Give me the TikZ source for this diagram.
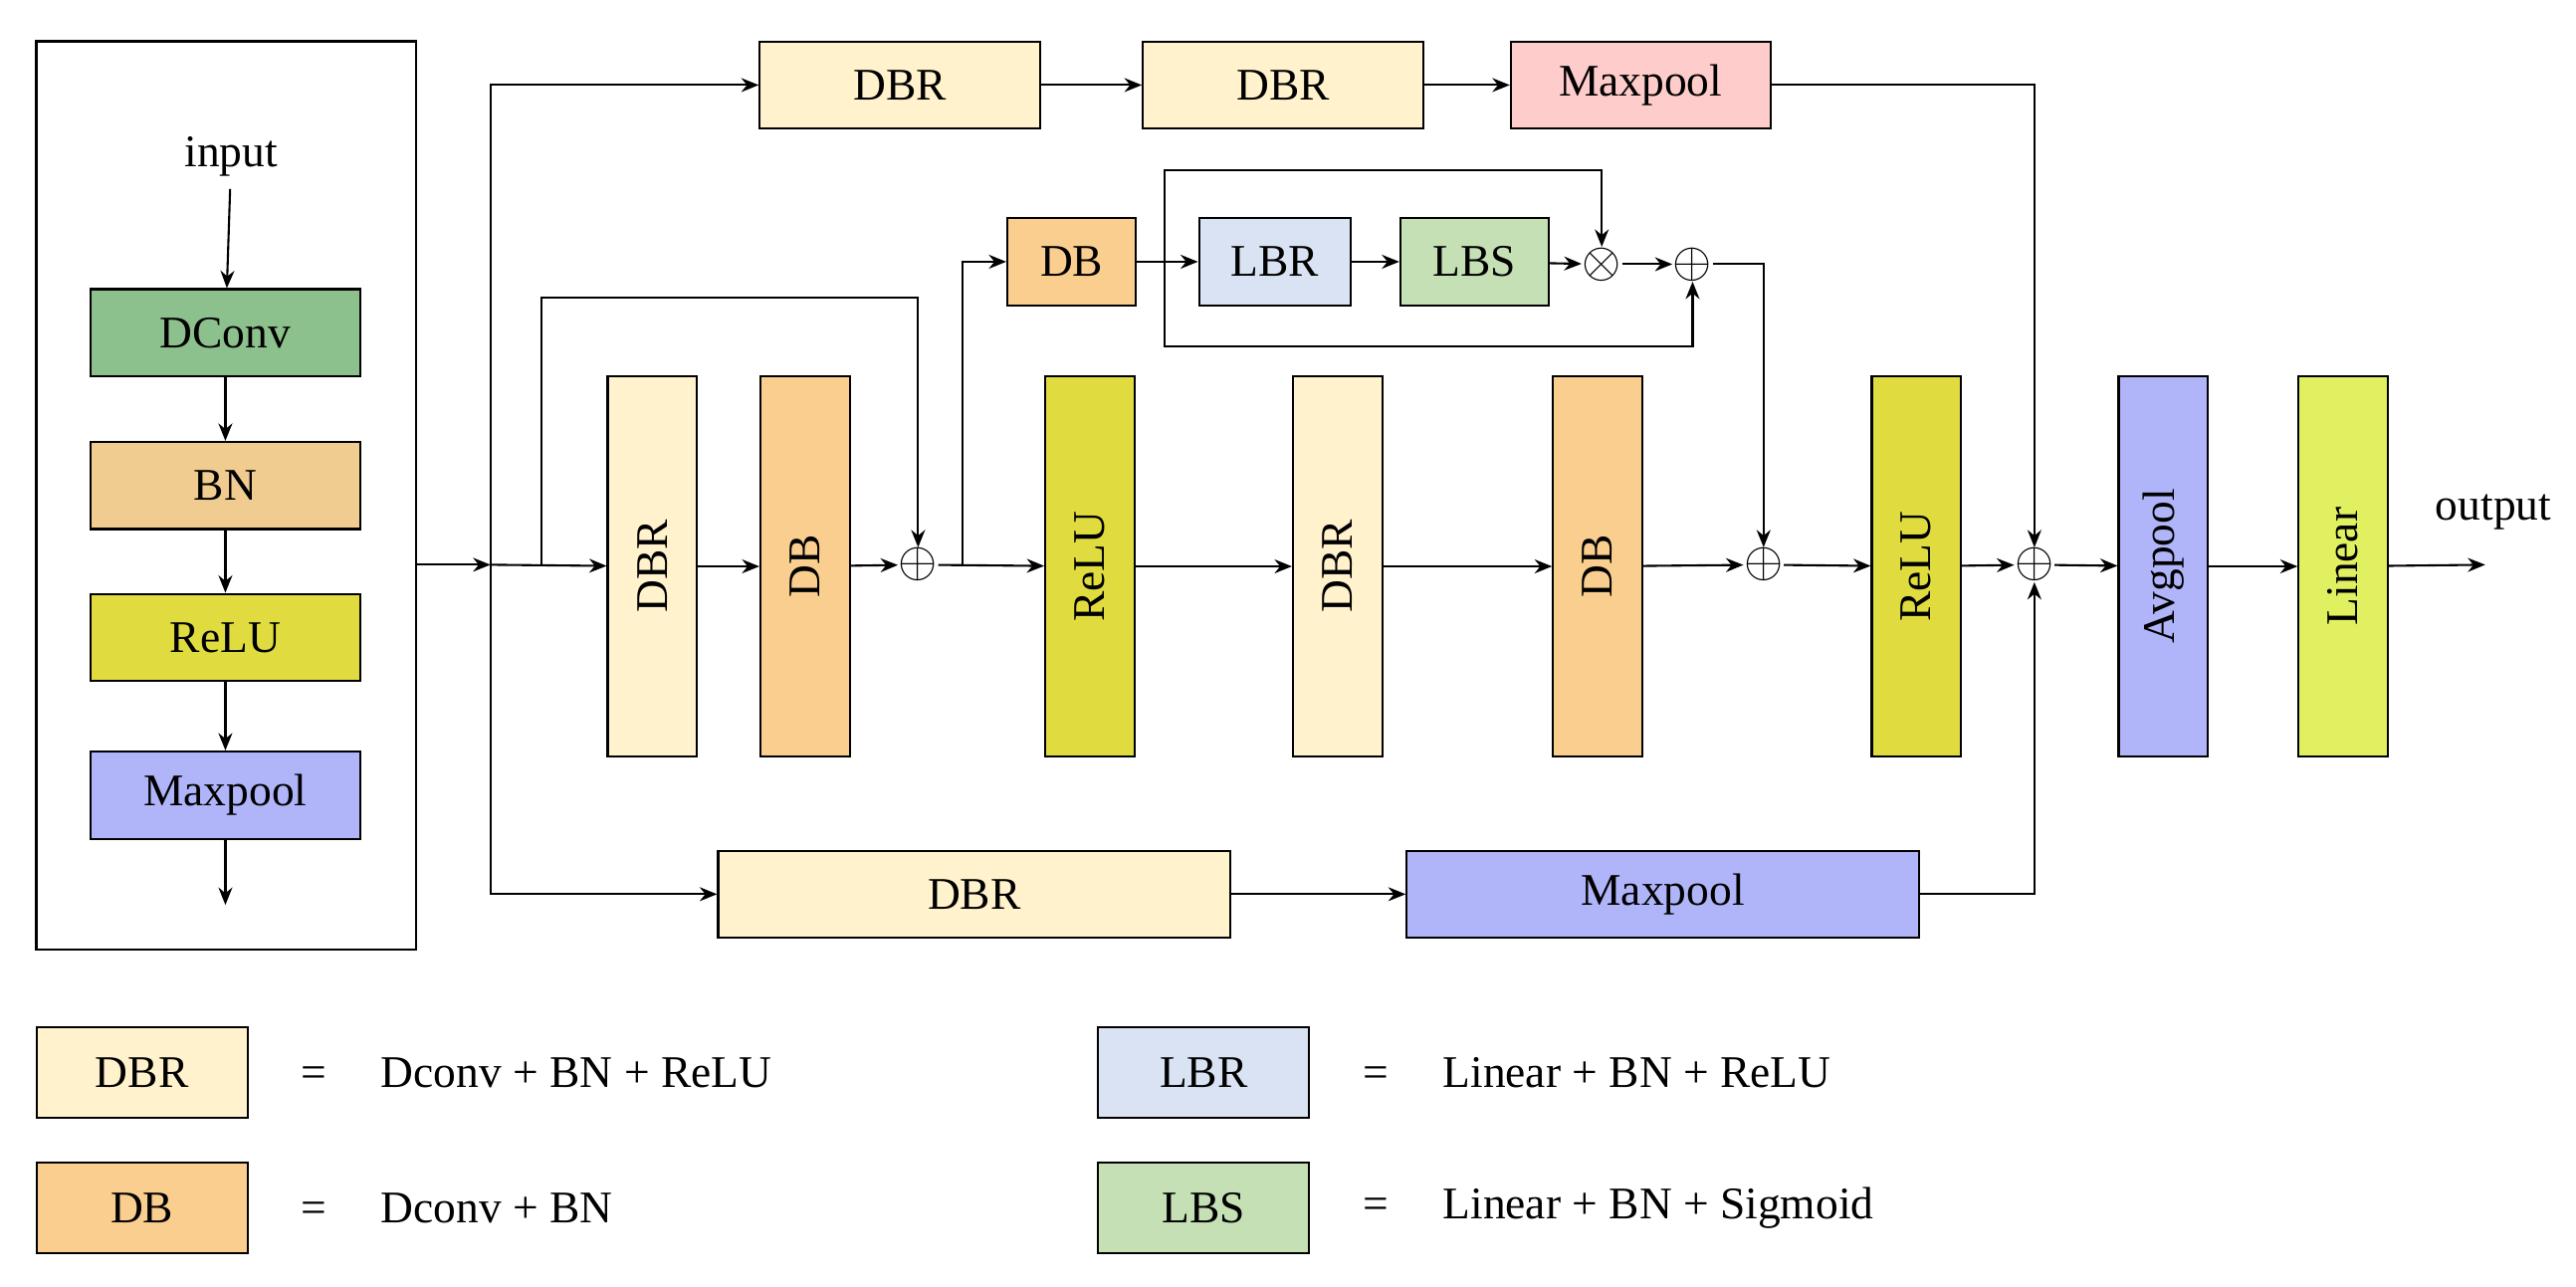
\documentclass[tikz,border=0pt]{standalone}
\usepackage{fontspec}
\setmainfont{Liberation Serif}
\usetikzlibrary{arrows.meta}
\definecolor{cDconv}{HTML}{8CC08C}
\definecolor{cBN}{HTML}{F0CC90}
\definecolor{cRelu}{HTML}{E0DC40}
\definecolor{cMax}{HTML}{B0B4F8}
\definecolor{cDBR}{HTML}{FFF2CC}
\definecolor{cDB}{HTML}{FACE8E}
\definecolor{cPink}{HTML}{FFCCCC}
\definecolor{cLBR}{HTML}{DAE3F3}
\definecolor{cLBS}{HTML}{C5E0B4}
\definecolor{cLin}{HTML}{E0F060}
\begin{document}
\begin{tikzpicture}[x=1cm/60,y=-1cm/60,
  every node/.style={font=\fontsize{13}{15}\selectfont},
  box/.style={draw,line width=0.6pt,inner sep=0pt},
  tall/.style={box,rotate=90,minimum width=3.83cm,minimum height=0.9cm},
  op/.style={inner sep=0pt,font=\fontsize{15}{15}\selectfont},
  ar/.style={-{Stealth[length=5pt,width=4pt]},line width=0.6pt},
  ln/.style={line width=0.6pt}]
\useasboundingbox (0,0) rectangle (1560,779);
% left panel
\draw[line width=0.6pt] (22,25) rectangle (252,575);
\node (in) at (140,95) {input};
\node[box,fill=cDconv,minimum width=2.72cm,minimum height=0.88cm] (dc) at (136.5,201.5) {DConv};
\node[box,fill=cBN,minimum width=2.72cm,minimum height=0.88cm] (bn) at (136.5,294) {BN};
\node[box,fill=cRelu,minimum width=2.72cm,minimum height=0.88cm] (re) at (136.5,386) {ReLU};
\node[box,fill=cMax,minimum width=2.72cm,minimum height=0.88cm] (mp) at (136.5,481.5) {Maxpool};
\coordinate (mpo) at (136.5,548);
\draw[ar] (in) -- (dc); \draw[ar] (dc) -- (bn); \draw[ar] (bn) -- (re); \draw[ar] (re) -- (mp); \draw[ar] (mp) -- (mpo);
% main
\coordinate (lp) at (252,342); \coordinate (sp) at (297,342); \coordinate (sk) at (328,342);
\draw[ar] (lp) -- (sp);
\node[tall,fill=cDBR] (dbr1) at (395,343) {DBR};
\node[tall,fill=cDB] (db1) at (487.5,343) {DB};
\node[op] (p1) at (556,342) {$\oplus$};
\node[tall,fill=cRelu] (r1) at (660,343) {ReLU};
\node[tall,fill=cDBR] (dbr2) at (810,343) {DBR};
\node[tall,fill=cDB] (db2) at (967.5,343) {DB};
\node[op] (p3) at (1068,342) {$\oplus$};
\node[tall,fill=cRelu] (r2) at (1160.5,343) {ReLU};
\node[op] (p4) at (1232,342) {$\oplus$};
\node[tall,fill=cMax] (avg) at (1310,343) {Avgpool};
\node[tall,fill=cLin] (lin) at (1419,343) {Linear};
\coordinate (out) at (1505,342);
\node (outt) at (1510,310) {output};
\draw[ar] (sp) -- (dbr1);
\draw[ar] (dbr1) -- (db1); \draw[ar] (db1) -- (p1);
\draw[ar] (p1) -- (r1); \draw[ar] (r1) -- (dbr2); \draw[ar] (dbr2) -- (db2);
\draw[ar] (db2) -- (p3); \draw[ar] (p3) -- (r2); \draw[ar] (r2) -- (p4);
\draw[ar] (p4) -- (avg); \draw[ar] (avg) -- (lin); \draw[ar] (lin) -- (out);
% skip
\draw[ar] (sk) |- (556,180) -- (p1);
% top branch
\node[box,fill=cDBR,minimum width=2.83cm,minimum height=0.88cm] (t1) at (545,51.5) {DBR};
\node[box,fill=cDBR,minimum width=2.83cm,minimum height=0.88cm] (t2) at (777,51.5) {DBR};
\node[box,fill=cPink,minimum width=2.62cm,minimum height=0.88cm] (t3) at (993.5,51.5) {Maxpool};
\draw[ar] (sp) |- (t1); \draw[ar] (t1) -- (t2); \draw[ar] (t2) -- (t3);
\draw[ar] (t3) -| (p4);
% bottom branch
\node[box,fill=cDBR,minimum width=5.17cm,minimum height=0.88cm] (b1) at (590,541.5) {DBR};
\node[box,fill=cMax,minimum width=5.17cm,minimum height=0.88cm] (b2) at (1007,541.5) {Maxpool};
\draw[ar] (sp) |- (b1); \draw[ar] (b1) -- (b2); \draw[ar] (b2) -| (p4);
% attention branch
\coordinate (br) at (583,342);
\node[box,fill=cDB,minimum width=1.3cm,minimum height=0.88cm] (dbs) at (649,158.5) {DB};
\node[box,fill=cLBR,minimum width=1.53cm,minimum height=0.88cm] (lbr) at (772,158.5) {LBR};
\node[box,fill=cLBS,minimum width=1.5cm,minimum height=0.88cm] (lbs) at (893,158.5) {LBS};
\node[op] (m) at (970,160) {$\otimes$};
\node[op] (p2) at (1025,160) {$\oplus$};
\coordinate (sb) at (705,158.5);
\draw[ar] (br) |- (dbs);
\draw[ln] (dbs) -- (sb);
\draw[ar] (sb) -- (lbr); \draw[ar] (lbr) -- (lbs); \draw[ar] (lbs) -- (m); \draw[ar] (m) -- (p2);
\draw[ar] (sb) |- (970,103) -- (m);
\draw[ar] (sb) |- (1025,210) -- (p2);
\draw[ar] (p2) -| (p3);
% legend
\node[box,fill=cDBR,minimum width=2.13cm,minimum height=0.92cm] (l1) at (86,649.5) {DBR};
\node[box,fill=cDB,minimum width=2.13cm,minimum height=0.92cm] (l2) at (86,731.5) {DB};
\node[box,fill=cLBR,minimum width=2.13cm,minimum height=0.92cm] (l3) at (729,649.5) {LBR};
\node[box,fill=cLBS,minimum width=2.13cm,minimum height=0.92cm] (l4) at (729,731.5) {LBS};
\node[anchor=west] (e1) at (175,649.5) {=\hspace{1.2em}Dconv + BN + ReLU};
\node[anchor=west] (e2) at (175,731.5) {=\hspace{1.2em}Dconv + BN};
\node[anchor=west] (e3) at (818,649.5) {=\hspace{1.2em}Linear + BN + ReLU};
\node[anchor=west] (e4) at (818,731.5) {=\hspace{1.2em}Linear + BN + Sigmoid};
\end{tikzpicture}
\end{document}
